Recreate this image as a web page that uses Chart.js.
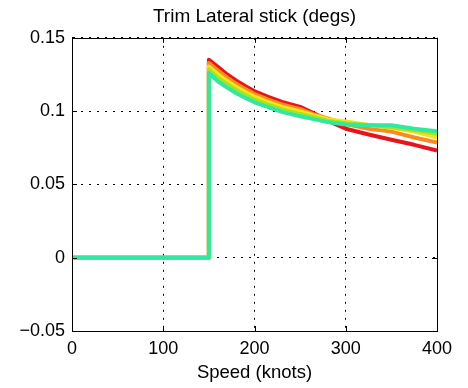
<!DOCTYPE html>
<html>
<head>
<meta charset="utf-8">
<script src="https://cdn.jsdelivr.net/npm/chart.js@4/dist/chart.umd.min.js"></script>
<style>
  html, body { margin: 0; padding: 0; background: #ffffff; }
  canvas { display: block; }
</style>
</head>
<body>
<canvas id="c" width="468" height="388"></canvas>
<script>
const speeds     = [0, 150, 150, 160, 170, 180, 190, 200, 215, 230, 250, 265, 280, 300, 325, 350, 375, 400];
const redVals    = [0, 0, 0.1350, 0.1300, 0.1250, 0.1208, 0.1170, 0.1135, 0.1097, 0.1063, 0.1029, 0.0985, 0.0935, 0.0880, 0.0840, 0.0805, 0.0770, 0.0730];
const orangeVals = [0, 0, 0.1328, 0.1276, 0.1228, 0.1186, 0.1150, 0.1116, 0.1079, 0.1046, 0.1013, 0.0978, 0.0950, 0.0912, 0.0880, 0.0860, 0.0820, 0.0785];
const yellowVals = [0, 0, 0.1305, 0.1251, 0.1205, 0.1165, 0.1130, 0.1098, 0.1062, 0.1029, 0.0997, 0.0970, 0.0945, 0.0930, 0.0905, 0.0887, 0.0860, 0.0820];
const limeVals   = [0, 0, 0.1283, 0.1226, 0.1183, 0.1144, 0.1110, 0.1079, 0.1044, 0.1012, 0.0981, 0.0958, 0.0935, 0.0918, 0.0905, 0.0890, 0.0870, 0.0846];
const tealVals   = [0, 0, 0.1260, 0.1202, 0.1160, 0.1122, 0.1090, 0.1060, 0.1027, 0.0995, 0.0965, 0.0945, 0.0925, 0.0908, 0.0903, 0.0903, 0.0880, 0.0862];

const xTicks = [0, 100, 200, 300, 400];
const xTickLabels = ['0', '100', '200', '300', '400'];
const yTicks = [-0.05, 0, 0.05, 0.1, 0.15];
const yTickLabels = ['\u22120.05', '0', '0.05', '0.1', '0.15'];

const titleText = 'Trim Lateral stick (degs)';
const xTitle = 'Speed (knots)';

// first entry is drawn on top (Chart.js draws dataset 0 last)
const series = [
  { vals: tealVals,   color: '#30e8a0' },
  { vals: limeVals,   color: '#a8e41e' },
  { vals: yellowVals, color: '#f2e41e' },
  { vals: orangeVals, color: '#fa8c1e' },
  { vals: redVals,    color: '#e8141c' }
];

const FONT = "'Liberation Sans', Arial, sans-serif";

const boxPlugin = {
  id: 'boxPlugin',
  afterDatasetsDraw(chart) {
    const { ctx, chartArea: a, scales } = chart;
    ctx.save();
    ctx.strokeStyle = '#000';
    ctx.lineWidth = 1;
    ctx.beginPath();
    const L = 5;
    xTicks.forEach(v => {
      const px = Math.round(scales.x.getPixelForValue(v)) + 0.5;
      ctx.moveTo(px, a.bottom); ctx.lineTo(px, a.bottom - L);
      ctx.moveTo(px, a.top); ctx.lineTo(px, a.top + L);
    });
    yTicks.forEach(v => {
      const py = Math.round(scales.y.getPixelForValue(v)) + 0.5;
      ctx.moveTo(a.left, py); ctx.lineTo(a.left + L, py);
      ctx.moveTo(a.right, py); ctx.lineTo(a.right - L, py);
    });
    ctx.stroke();
    ctx.strokeRect(Math.round(a.left) + 0.5, Math.round(a.top) + 0.5,
                   Math.round(a.right - a.left), Math.round(a.bottom - a.top));
    ctx.restore();
  }
};

new Chart(document.getElementById('c'), {
  type: 'line',
  data: {
    datasets: series.map(s => ({
      data: speeds.map((x, i) => ({ x: x, y: s.vals[i] })),
      borderColor: s.color,
      backgroundColor: s.color,
      borderWidth: 4,
      borderJoinStyle: 'round',
      pointRadius: 0,
      tension: 0,
      fill: false
    }))
  },
  options: {
    responsive: false,
    animation: false,
    devicePixelRatio: 1,
    layout: { padding: { left: 0, right: 31, top: 0, bottom: 0 } },
    plugins: {
      legend: { display: false },
      tooltip: { enabled: false },
      title: {
        display: true,
        fullSize: false,
        text: titleText,
        color: '#000',
        font: { family: FONT, size: 19, weight: 'normal' },
        padding: { top: 5, bottom: 10 }
      }
    },
    scales: {
      x: {
        type: 'linear',
        min: 0, max: 400,
        afterBuildTicks: s => { s.ticks = xTicks.map(v => ({ value: v })); },
        afterFit: s => { s.height = 57; },
        ticks: {
          color: '#000',
          padding: 7,
          font: { family: FONT, size: 18 },
          callback: (v) => { const i = xTicks.indexOf(v); return i >= 0 ? xTickLabels[i] : ''; }
        },
        grid: {
          color: '#000',
          lineWidth: 1,
          drawTicks: false
        },
        border: { display: true, color: '#000', width: 1, dash: [2, 6] },
        title: {
          display: true, text: xTitle, color: '#000',
          font: { family: FONT, size: 18.5 },
          padding: { top: 0, bottom: 4 }
        }
      },
      y: {
        type: 'linear',
        min: -0.05, max: 0.15,
        afterBuildTicks: s => { s.ticks = yTicks.map(v => ({ value: v })); },
        afterFit: s => { s.width = 72; },
        ticks: {
          color: '#000',
          padding: 7,
          font: { family: FONT, size: 18 },
          callback: (v) => { const i = yTicks.findIndex(t => Math.abs(t - v) < 1e-9); return i >= 0 ? yTickLabels[i] : ''; }
        },
        grid: {
          color: '#000',
          lineWidth: 1,
          drawTicks: false
        },
        border: { display: true, color: '#000', width: 1, dash: [2, 6] }
      }
    }
  },
  plugins: [boxPlugin]
});
</script>
</body>
</html>
